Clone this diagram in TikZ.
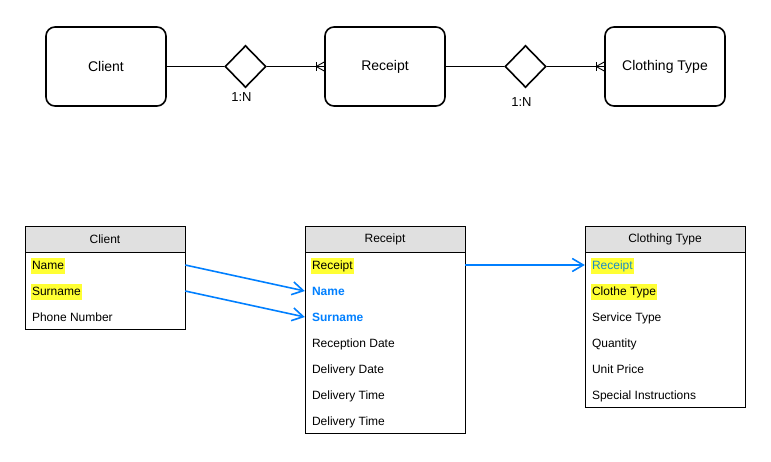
\documentclass[tikz,border=0pt]{standalone}
\usepackage{fontspec}
\setmainfont{Liberation Sans}
\usetikzlibrary{arrows.meta,shapes.geometric,calc}

\definecolor{hdrgray}{HTML}{E0E0E0}
\definecolor{linkblue}{HTML}{007FFF}
\definecolor{keyteal}{HTML}{1A8CC8}
\definecolor{hlyellow}{HTML}{FFFF33}

\tikzset{
  entity/.style={draw, line width=1.6pt, rounded corners=9pt, minimum width=120pt,
    minimum height=79pt, inner sep=0pt, font=\fontsize{14}{16}\selectfont},
  relation/.style={draw, line width=1.6pt, shape=diamond, minimum width=41pt,
    minimum height=42pt, inner sep=0pt},
  cardlabel/.style={font=\fontsize{13}{15}\selectfont, inner sep=0pt},
  erline/.style={draw, line width=0.9pt},
  crow/.style={draw, line width=0.9pt},
  tblhead/.style={draw, line width=0.8pt, fill=hdrgray, minimum width=160pt,
    minimum height=26pt, inner sep=0pt, font=\fontsize{12}{14}\selectfont},
  tblbody/.style={draw, line width=0.8pt, minimum width=160pt, inner sep=0pt, anchor=north},
  tblrow/.style={minimum width=160pt, minimum height=26pt, inner sep=0pt},
  field/.style={anchor=base west, xshift=6pt, yshift=-4.3pt, inner xsep=1pt,
    inner ysep=2pt, text height=9pt, text depth=3pt, font=\fontsize{12}{14}\selectfont},
  keyfield/.style={field, fill=hlyellow},
  linkfield/.style={field, text=linkblue, font=\fontsize{12}{14}\selectfont\bfseries},
  fklink/.style={draw=linkblue, line width=1.6pt,
    -{Straight Barb[length=11pt, width=13pt, line width=1.6pt]}},
}

\begin{document}
\begin{tikzpicture}[x=1pt, y=-1pt]
\useasboundingbox (0,0) rectangle (771,461);

% ---------- conceptual ER model ----------
\node[entity] (eClient) at (106,66.5) {Client};
\node[entity] (eReceipt) at (385,66.5) {Receipt};
\node[entity] (eCloth) at (665,66.5) {Clothing Type};

\node[relation] (rel1) at (245.5,66.5) {};
\node[relation] (rel2) at (525.5,66.5) {};
\node[cardlabel] (card1) at (241.5,97) {1:N};
\node[cardlabel] (card2) at (521.5,102) {1:N};

\draw[erline] (eClient.east) -- (rel1.west);
\draw[erline] (rel1.east) -- (eReceipt.west);
\draw[erline] (eReceipt.east) -- (rel2.west);
\draw[erline] (rel2.east) -- (eCloth.west);

% one-to-many ends
\foreach \ent in {eReceipt, eCloth} {
  \draw[crow] ($(\ent.west)+(-8,-4.5)$) -- ($(\ent.west)+(-8,4.5)$);
  \draw[crow] ($(\ent.west)+(0,-4.5)$) -- ($(\ent.west)+(-8,0)$) -- ($(\ent.west)+(0,4.5)$);
}

% ---------- Client table ----------
\node[tblhead] (cHead) at (105,239) {Client};
\node[tblbody, minimum height=77pt] (cBody) at (cHead.south) {};
\node[tblrow] (cR1) at (105,265) {};
\node[tblrow] (cR2) at (105,291) {};
\node[tblrow] (cR3) at (105,317) {};
\node[keyfield] (cT1) at (cR1.west) {Name};
\node[keyfield] (cT2) at (cR2.west) {Surname};
\node[field] (cT3) at (cR3.west) {Phone Number};

% ---------- Receipt table ----------
\node[tblhead] (rHead) at (385,239) {Receipt};
\node[tblbody, minimum height=181pt] (rBody) at (rHead.south) {};
\node[tblrow] (rR1) at (385,265) {};
\node[tblrow] (rR2) at (385,291) {};
\node[tblrow] (rR3) at (385,317) {};
\node[tblrow] (rR4) at (385,343) {};
\node[tblrow] (rR5) at (385,369) {};
\node[tblrow] (rR6) at (385,395) {};
\node[tblrow] (rR7) at (385,421) {};
\node[keyfield] (rT1) at (rR1.west) {Receipt};
\node[linkfield] (rT2) at (rR2.west) {Name};
\node[linkfield] (rT3) at (rR3.west) {Surname};
\node[field] (rT4) at (rR4.west) {Reception Date};
\node[field] (rT5) at (rR5.west) {Delivery Date};
\node[field] (rT6) at (rR6.west) {Delivery Time};
\node[field] (rT7) at (rR7.west) {Delivery Time};

% ---------- Clothing Type table ----------
\node[tblhead] (tHead) at (665,239) {Clothing Type};
\node[tblbody, minimum height=155pt] (tBody) at (tHead.south) {};
\node[tblrow] (tR1) at (665,265) {};
\node[tblrow] (tR2) at (665,291) {};
\node[tblrow] (tR3) at (665,317) {};
\node[tblrow] (tR4) at (665,343) {};
\node[tblrow] (tR5) at (665,369) {};
\node[tblrow] (tR6) at (665,395) {};
\node[keyfield, text=keyteal] (tT1) at (tR1.west) {Receipt};
\node[keyfield] (tT2) at (tR2.west) {Clothe Type};
\node[field] (tT3) at (tR3.west) {Service Type};
\node[field] (tT4) at (tR4.west) {Quantity};
\node[field] (tT5) at (tR5.west) {Unit Price};
\node[field] (tT6) at (tR6.west) {Special Instructions};

% ---------- foreign key links ----------
\draw[fklink] (cR1.east) -- (rR2.west);
\draw[fklink] (cR2.east) -- (rR3.west);
\draw[fklink] (rR1.east) -- (tR1.west);
\end{tikzpicture}
\end{document}
